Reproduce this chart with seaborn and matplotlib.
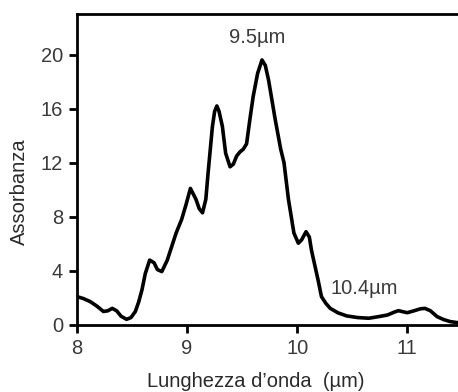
import matplotlib
matplotlib.use("Agg")
import matplotlib.pyplot as plt
import seaborn as sns
import pandas as pd

wavelength = [8.00, 8.06, 8.12, 8.18, 8.24, 8.28, 8.32, 8.36, 8.40, 8.45, 8.49, 8.53,
              8.56, 8.59, 8.62, 8.66, 8.70, 8.73, 8.77, 8.82, 8.86, 8.90, 8.95, 8.99,
              9.03, 9.08, 9.11, 9.14, 9.17, 9.19, 9.23, 9.25, 9.27, 9.29, 9.32, 9.35,
              9.39, 9.42, 9.45, 9.48, 9.51, 9.54, 9.57, 9.60, 9.64, 9.68, 9.71, 9.74,
              9.80, 9.85, 9.88, 9.92, 9.97, 10.01, 10.04, 10.08, 10.11, 10.13, 10.16,
              10.19, 10.22, 10.26, 10.30, 10.37, 10.45, 10.55, 10.65, 10.74, 10.82,
              10.88, 10.92, 10.96, 11.00, 11.06, 11.12, 11.16, 11.21, 11.27, 11.33,
              11.39, 11.46]
absorbance = [2.10, 1.95, 1.73, 1.40, 1.00, 1.05, 1.23, 1.05, 0.65, 0.42, 0.55, 1.00,
              1.70, 2.60, 3.80, 4.80, 4.60, 4.10, 3.95, 4.80, 5.80, 6.80, 7.80, 8.90,
              10.10, 9.30, 8.60, 8.30, 9.30, 11.20, 14.70, 15.80, 16.20, 15.80, 14.70,
              12.70, 11.70, 11.90, 12.50, 12.80, 13.00, 13.40, 15.20, 16.90, 18.60,
              19.60, 19.20, 18.10, 15.20, 13.00, 12.00, 9.30, 6.80, 6.05, 6.30, 6.90,
              6.50, 5.50, 4.40, 3.30, 2.10, 1.60, 1.23, 0.90, 0.67, 0.55, 0.50, 0.62,
              0.74, 0.95, 1.06, 0.98, 0.91, 1.05, 1.20, 1.23, 1.05, 0.62, 0.40, 0.25,
              0.17]

x_ticks = [8, 9, 10, 11]
y_ticks = [0, 4, 8, 12, 16, 20]
peak_labels = ["9.5\u00b5m", "10.4\u00b5m"]
peak_label_x = [9.64, 10.61]
peak_label_y = [21.25, 2.7]

df = pd.DataFrame({"wl": wavelength, "abs": absorbance})

sns.set_theme(style="white")
plt.rcParams["font.family"] = ["Liberation Sans", "DejaVu Sans"]

fig = plt.figure(figsize=(4.58, 3.92), dpi=100)
ax = fig.add_axes([77/458, 67/392, 381/458, 311/392])

sns.lineplot(data=df, x="wl", y="abs", ax=ax, color="black", linewidth=2.6,
             estimator=None, sort=False, solid_joinstyle="round",
             solid_capstyle="round")

ax.set_xlim(8, 11.46)
ax.set_ylim(0, 23.0)
ax.set_xticks(x_ticks)
ax.set_yticks(y_ticks)
ax.set_xticklabels([str(v) for v in x_ticks])
ax.set_yticklabels([str(v) for v in y_ticks])

for side in ["left", "bottom", "top"]:
    ax.spines[side].set_visible(True)
    ax.spines[side].set_color("black")
    ax.spines[side].set_linewidth(2.0)
ax.spines["right"].set_visible(False)

ax.tick_params(axis="both", which="major", direction="out", length=6, width=2.0,
               color="black", labelsize=14.5, labelcolor="#3a3a3a", pad=4,
               left=True, bottom=True)

ax.set_xlabel("Lunghezza d\u2019onda  (\u00b5m)", fontsize=14.5, color="#2a2a2a")
ax.set_ylabel("Assorbanza", fontsize=14.5, color="#2a2a2a")
ax.xaxis.set_label_coords(0.47, -0.15)
ax.yaxis.set_label_coords(-0.125, 0.43)

for lab, lx, ly in zip(peak_labels, peak_label_x, peak_label_y):
    ax.text(lx, ly, lab, ha="center", va="center", fontsize=14.5, color="#3a3a3a")

fig.savefig("out.png", dpi=100)
